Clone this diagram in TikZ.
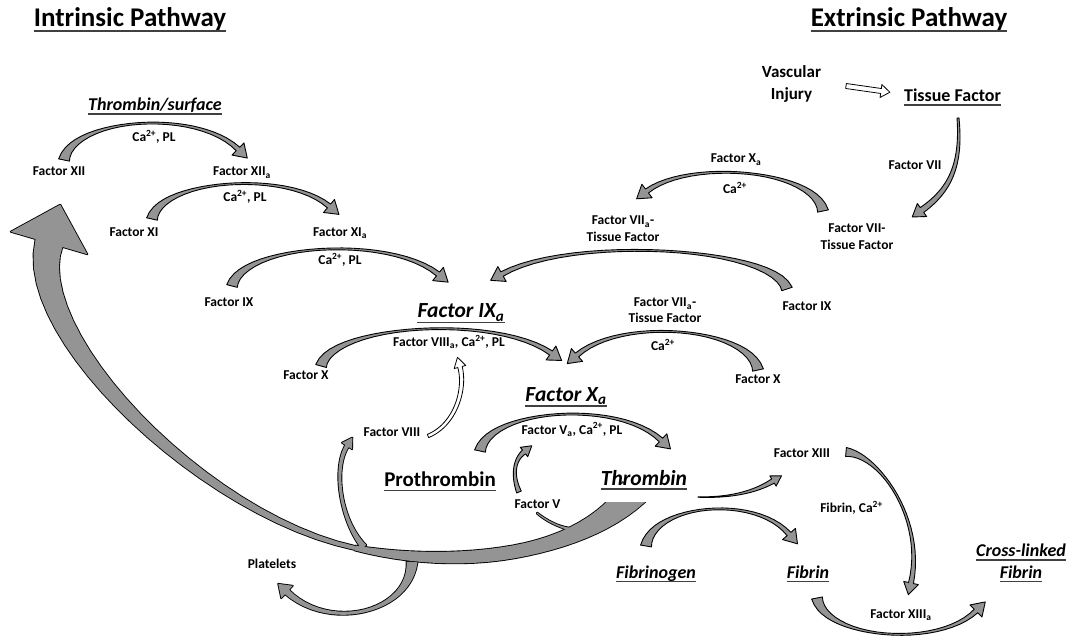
\documentclass[tikz,border=0pt]{standalone}
\usepackage{fontspec}
\setmainfont{Carlito}
\usetikzlibrary{calc}
\definecolor{arrgray}{gray}{0.58}

\def\ribp{2}
% #1 style, #2 centre path, #3 tail width, #4 middle width, #5 neck width,
% #6 position of middle width, #7 head width, #8 head length
\newcommand{\rib}[8][]{%
  \pgfmathsetmacro\rbA{max(#6,0.001)}%
  \pgfmathsetmacro\rbB{max(1-#6,0.001)}%
  \foreach \ri in {0,...,24}{%
    \pgfmathsetmacro\rbt{\ri/24}%
    \ifdim\rbt pt<#6pt
      \pgfmathsetmacro\rbs{min((#6-\rbt)/\rbA,1)}%
      \pgfmathsetmacro\rbw{#4+(#3-#4)*(\rbs+0.0001)^\ribp}%
    \else
      \pgfmathsetmacro\rbs{min((\rbt-#6)/\rbB,1)}%
      \pgfmathsetmacro\rbw{#4+(#5-#4)*(\rbs+0.0001)^\ribp}%
    \fi
    \expandafter\xdef\csname rbw\ri\endcsname{\rbw}%
  }%
  \path #2 foreach \ri [evaluate=\ri as \rt using \ri/24] in {0,...,24}
     {node[ribpt,pos=\rt,minimum height=\csname rbw\ri\endcsname] (rb\ri) {}}
     node[ribpt,pos=1,minimum height=#7,minimum width={2*(#8)}] (rbh) {};%
  \path[#1] (rb0.north) foreach \ri in {1,...,24} {-- (rb\ri.north)}
     -- (rbh.north) -- (rbh.east) -- (rbh.south)
     foreach \ri in {24,...,0} {-- (rb\ri.south)} -- cycle;%
}
% PowerPoint-like curved arc arrow: tail (#2,#3), head base (#4,#5), peak y #6
\newcommand{\parc}[6][]{%
  \pgfmathsetmacro\pcAx{#2+0.05*(#4-#2)}%
  \pgfmathsetmacro\pcAy{#6-0.13*(#3-#6)}%
  \pgfmathsetmacro\pcBx{#4-0.24*(#4-#2)}%
  \pgfmathsetmacro\pcBy{#6-0.4*(#3-#6)}%
  \rib[#1]{(#2,#3) .. controls (\pcAx,\pcAy) and (\pcBx,\pcBy) .. (#4,#5)}{11}{1.8}{5}{0.5}{17}{13}%
}

\tikzset{
  ribpt/.style={sloped, allow upside down, rectangle, inner sep=0pt, outer sep=0pt,
                minimum width=0pt, anchor=center},
  arr/.style={fill=arrgray, draw=black, line width=0.9pt, line join=round},
  arrline/.style={draw=black, line width=1.8pt, line join=round},
  arrbody/.style={fill=arrgray},
  hollow/.style={fill=white, draw=black, line width=0.8pt, line join=round},
  lab/.style={font=\fontsize{13.5}{16}\selectfont\bfseries, inner sep=0pt, anchor=base},
  ttl/.style={font=\fontsize{27}{31}\selectfont\bfseries, inner sep=0pt, anchor=base},
  bigi/.style={font=\fontsize{21.5}{25}\selectfont\bfseries\itshape, inner sep=0pt, anchor=base},
  bigu/.style={font=\fontsize{21}{25}\selectfont\bfseries, inner sep=0pt, anchor=base},
  medi/.style={font=\fontsize{18}{21}\selectfont\bfseries\itshape, inner sep=0pt, anchor=base},
  medu/.style={font=\fontsize{18}{21}\selectfont\bfseries, inner sep=0pt, anchor=base},
  ul/.style={line width=1.4pt, draw=black!75},
}
\newcommand{\uln}[2][3.5pt]{\draw[ul] ([yshift=-#1]#2.base west) -- ([yshift=-#1]#2.base east);}

\begin{document}
\begin{tikzpicture}[x=1pt,y=-1pt]
\fill[white] (0,0) rectangle (1072,639);
\useasboundingbox (0,0) rectangle (1072,639);

% ---------- big thrombin feedback arrow system (outline pass, then fill pass) ----------
\foreach \pass in {arrline,arrbody}{
  \rib[\pass]{(634,492) .. controls (580,555) and (460,570) .. (355,548)}{30}{13}{5}{0.5}{5}{0}
  \begin{scope}
    \def\ribp{1.5}
    \rib[\pass]{(355,548) .. controls (205,516) and (22,335) .. (49,243)}{4}{4}{28}{0}{80}{40}
  \end{scope}
  \rib[\pass]{(364,547) .. controls (340,520) and (333,468) .. (347,446)}{6}{3}{4}{0.5}{12}{10}
  \rib[\pass]{(412,562) .. controls (410,612) and (330,632) .. (287,592)}{11}{3}{6}{0.55}{17}{12}
  \rib[\pass]{(537,513) .. controls (548,522) and (560,528) .. (582,532)}{1}{1.5}{6}{0.5}{6}{0}
}
% horizontal cut of the band under "Thrombin"
\fill[white] (594,484) rectangle (664,502);

% ---------- curved reaction arrows ----------
\parc[arr]{64}{160}{238}{149}{123}
\parc[arr]{152}{219}{329}{206}{184}
\parc[arr]{232}{286}{438}{274}{249}
\parc[arr]{321}{366}{551}{353}{329}
\parc[arr]{758}{370}{577}{355}{332}
\parc[arr]{787}{289}{502}{274}{251}
\parc[arr]{823}{211}{647}{191}{174}
\parc[arr]{480}{451}{661}{440}{414}
\parc[arr]{646}{546}{789}{534}{509}
\parc[arr]{817}{598}{976}{611}{634}

% Tissue Factor -> Factor VII-Tissue Factor
\begin{scope}\def\ribp{1}
\rib[arr]{(958,118) .. controls (962,165) and (950,190) .. (922,210)}{2}{2}{6}{0}{16}{12}
\end{scope}
% Factor XIII -> Factor XIIIa
\rib[arr]{(846,452) .. controls (880,455) and (925,520) .. (911,583)}{9}{2}{5}{0.45}{15}{12}
% Thrombin -> Factor XIII
\begin{scope}\def\ribp{1.5}
\rib[arr]{(698,497) .. controls (730,498) and (755,492) .. (773,481)}{0.5}{0.5}{5}{0}{12}{10}
\end{scope}
% Factor V -> Factor Va
\rib[arr]{(519,492) .. controls (512,475) and (514,460) .. (524,452)}{5}{3}{5}{0.5}{12}{10}
% Factor VIII -> Factor VIIIa (hollow)
\rib[hollow]{(428,436) .. controls (455,425) and (466,390) .. (460,367)}{3.5}{3.5}{4.5}{0}{12}{10}
% Vascular Injury => Tissue Factor (hollow)
\rib[hollow]{(846,86) -- (881,91)}{5}{5}{5}{0.5}{13}{9}

% ---------- titles ----------
\node[ttl] (tin) at (130,27) {Intrinsic Pathway};
\node[ttl] (tex) at (909,27) {Extrinsic Pathway};
\uln[4pt]{tin}\uln[4pt]{tex}

% ---------- intrinsic labels ----------
\node[medi] (thrs) at (155,111) {Thrombin/surface}; \uln[3pt]{thrs}
\node[lab] (fXII) at (59,176) {Factor XII};
\node[lab] (cpl1) at (154,141.5) {Ca\textsuperscript{2+}, PL};
\node[lab] (fXIIa) at (242,176) {Factor XII\textsubscript{a}};
\node[lab] (cpl2) at (245,201.5) {Ca\textsuperscript{2+}, PL};
\node[lab] (fXI) at (134,236.5) {Factor XI};
\node[lab] (fXIa) at (340,236.5) {Factor XI\textsubscript{a}};
\node[lab] (cpl3) at (340,265) {Ca\textsuperscript{2+}, PL};
\node[lab] (fIX) at (229,306.5) {Factor IX};
\node[bigi] (fIXa) at (461,318) {Factor IX\textsubscript{a}}; \uln[4.5pt]{fIXa}
\node[lab] (c8) at (449,346.5) {Factor VIII\textsubscript{a}, Ca\textsuperscript{2+}, PL};
\node[lab] (fXl) at (306,380) {Factor X};
\node[lab] (fVIII) at (392,436) {Factor VIII};
\node[bigi] (fXa) at (566,401.5) {Factor X\textsubscript{a}}; \uln[4.5pt]{fXa}
\node[lab] (c5) at (572,434) {Factor V\textsubscript{a}, Ca\textsuperscript{2+}, PL};
\node[bigu] (pro) at (440,486.5) {Prothrombin}; \uln[4pt]{pro}
\node[bigi] (thr) at (644,485) {Thrombin}; \uln[4pt]{thr}
\node[lab] (fV) at (537.5,508.5) {Factor V};
\node[lab] (plt) at (272,568) {Platelets};
\node[medi] (fbg) at (656,578) {Fibrinogen}; \uln[3.5pt]{fbg}
\node[medi] (fbn) at (808,578) {Fibrin}; \uln[3.5pt]{fbn}
\node[medi] (xl1) at (1021,556.5) {Cross-linked}; \uln[3.5pt]{xl1}
\node[medi] (xl2) at (1021,578) {Fibrin}; \uln[3.5pt]{xl2}
\node[lab] (fXIII) at (802,457) {Factor XIII};
\node[lab] (fca) at (851.5,512.7) {Fibrin, Ca\textsuperscript{2+}};
\node[lab] (fXIIIa) at (901,618) {Factor XIII\textsubscript{a}};

% ---------- extrinsic labels ----------
\node[medu, font=\fontsize{17}{20}\selectfont\bfseries] (vas1) at (791.5,78) {Vascular};
\node[medu, font=\fontsize{17}{20}\selectfont\bfseries] (vas2) at (791.5,100) {Injury};
\node[medu] (tf) at (952.5,101.5) {Tissue Factor}; \uln[3.5pt]{tf}
\node[lab] (fVII) at (915,170) {Factor VII};
\node[lab] (fXas) at (736,163) {Factor X\textsubscript{a}};
\node[lab] (ca1) at (735,194) {Ca\textsuperscript{2+}};
\node[lab] (f7a1) at (623,225) {Factor VII\textsubscript{a}-};
\node[lab] (f7a2) at (623,241.7) {Tissue Factor};
\node[lab] (f71) at (857,233) {Factor VII-};
\node[lab] (f72) at (857,250) {Tissue Factor};
\node[lab] (fIXr) at (807,310.7) {Factor IX};
\node[lab] (f7b1) at (665,307) {Factor VII\textsubscript{a}-};
\node[lab] (f7b2) at (665,323) {Tissue Factor};
\node[lab] (ca2) at (663,350.7) {Ca\textsuperscript{2+}};
\node[lab] (fXr) at (758,384) {Factor X};
\end{tikzpicture}
\end{document}
